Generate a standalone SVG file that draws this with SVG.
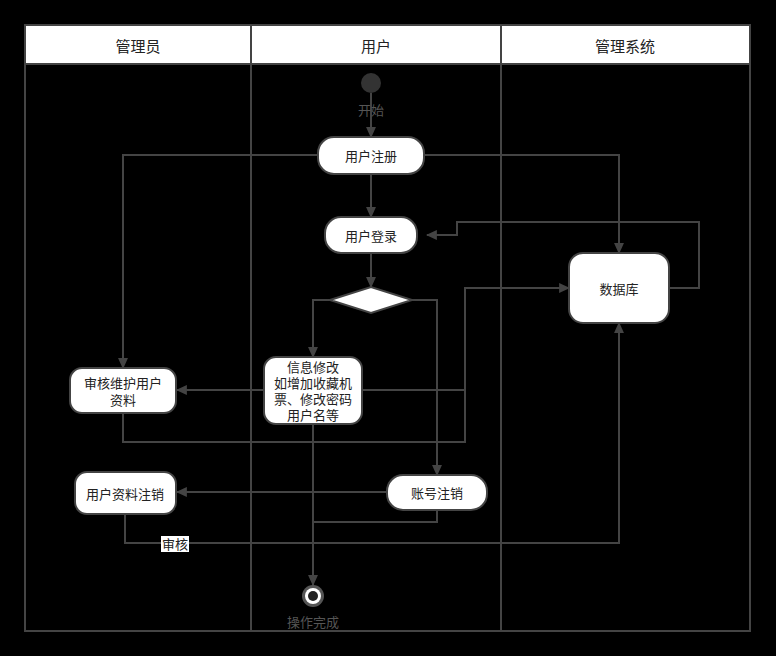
<svg xmlns="http://www.w3.org/2000/svg" width="776" height="656" viewBox="0 0 776 656">
<style>
text{font-family:"Liberation Sans","Noto Sans CJK SC",sans-serif;font-size:13px;fill:#222;text-anchor:middle;dominant-baseline:central}
.hd{font-size:15px}
.lbl{fill:#555}
.node{fill:#fff;stroke:#444;stroke-width:2}
.lane{fill:none;stroke:#444;stroke-width:2}
.edge{fill:none;stroke:#444;stroke-width:2}
</style>
<defs>
<marker id="arr" viewBox="0 0 10 10" refX="9" refY="5" markerWidth="11" markerHeight="11" markerUnits="userSpaceOnUse" orient="auto">
<path d="M0,0.5 L10,5 L0,9.5 Z" fill="#444"/>
</marker>
</defs>
<rect x="0" y="0" width="776" height="656" fill="#000"/>
<g id="swimlanes">
<rect x="25" y="25" width="725" height="39" fill="#fff" stroke="#444" stroke-width="2"/>
<rect class="lane" x="25" y="25" width="725" height="606"/>
<line class="lane" x1="251" y1="25" x2="251" y2="631"/>
<line class="lane" x1="501" y1="25" x2="501" y2="631"/>
<text class="hd" x="138" y="46">管理员</text>
<text class="hd" x="376" y="46">用户</text>
<text class="hd" x="625" y="46">管理系统</text>
</g>
<g id="connectors">
<path class="edge" d="M371,93 V137" marker-end="url(#arr)"/>
<path class="edge" d="M318,155 H123 V368" marker-end="url(#arr)"/>
<path class="edge" d="M424,155 H619 V253" marker-end="url(#arr)"/>
<path class="edge" d="M371,174 V217" marker-end="url(#arr)"/>
<path class="edge" d="M669,288 H699 V222 H457 V235 H427" marker-end="url(#arr)"/>
<path class="edge" d="M371,253 V287" marker-end="url(#arr)"/>
<path class="edge" d="M330,300 H313 V357" marker-end="url(#arr)"/>
<path class="edge" d="M412,300 H437 V475" marker-end="url(#arr)"/>
<path class="edge" d="M264,390 H177" marker-end="url(#arr)"/>
<path class="edge" d="M362,390 H465 V288 H569" marker-end="url(#arr)"/>
<path class="edge" d="M123,413 V442 H465 V390"/>
<path class="edge" d="M313,424 V585" marker-end="url(#arr)"/>
<path class="edge" d="M387,492 H177" marker-end="url(#arr)"/>
<path class="edge" d="M437,510 V522 H313"/>
<path class="edge" d="M125,514 V543 H619 V323" marker-end="url(#arr)"/>
<rect x="161" y="536" width="28" height="16" fill="#fff"/>
<text x="175" y="544">审核</text>
</g>
<g id="start">
<circle cx="371" cy="83" r="10" fill="#333"/>
<text class="lbl" x="371" y="110">开始</text>
</g>
<g id="register">
<rect class="node" x="318" y="137" width="106" height="37" rx="16"/>
<text x="371" y="156">用户注册</text>
</g>
<g id="login">
<rect class="node" x="325" y="217" width="92" height="36" rx="16"/>
<text x="371" y="236">用户登录</text>
</g>
<g id="decision">
<polygon class="node" points="330,300 371,287 412,300 371,313"/>
</g>
<g id="modify">
<rect class="node" x="264" y="357" width="98" height="67" rx="12"/>
<text x="313" y="367">信息修改</text>
<text x="313" y="383">如增加收藏机</text>
<text x="313" y="399">票、修改密码</text>
<text x="313" y="415">用户名等</text>
</g>
<g id="review">
<rect class="node" x="70" y="368" width="106" height="45" rx="12"/>
<text x="123" y="383">审核维护用户</text>
<text x="123" y="400">资料</text>
</g>
<g id="cancelProfile">
<rect class="node" x="75" y="472" width="101" height="42" rx="12"/>
<text x="125" y="494">用户资料注销</text>
</g>
<g id="cancelAccount">
<rect class="node" x="387" y="475" width="100" height="35" rx="16"/>
<text x="437" y="493">账号注销</text>
</g>
<g id="database">
<rect class="node" x="569" y="253" width="100" height="70" rx="14"/>
<text x="619" y="289">数据库</text>
</g>
<g id="end">
<circle cx="313" cy="596" r="11" fill="#555"/>
<circle cx="313" cy="596" r="8" fill="#fff"/>
<circle cx="313" cy="596" r="5" fill="#222"/>
<text class="lbl" x="313" y="622">操作完成</text>
</g>
</svg>
